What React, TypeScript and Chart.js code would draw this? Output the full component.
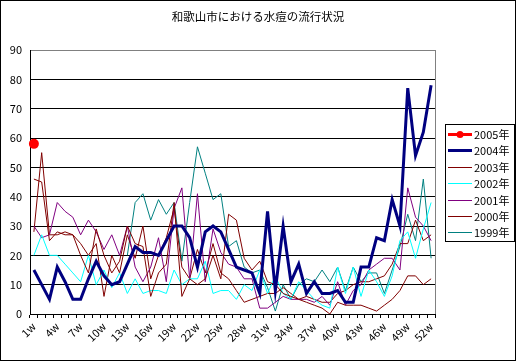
import React, { useEffect, useRef } from "react";
import { Chart, registerables } from "chart.js";

Chart.register(...registerables);

const TITLE = "和歌山市における水痘の流行状況";

const weeks = [
  "1w","2w","3w","4w","5w","6w","7w","8w","9w","10w","11w","12w","13w",
  "14w","15w","16w","17w","18w","19w","20w","21w","22w","23w","24w","25w","26w",
  "27w","28w","29w","30w","31w","32w","33w","34w","35w","36w","37w","38w","39w",
  "40w","41w","42w","43w","44w","45w","46w","47w","48w","49w","50w","51w","52w",
];

const y2005 = [58];
const y2004 = [15,10,5,16,11,5,5,12,18,13,10,11,17,23,21,21,20,25,30,30,26,16,28,30,28,22,16,15,14,7,35,8,30,11,17,7,11,7,7,8,4,4,16,16,26,25,39,30,77,54,62,78];
const y2003 = [46,45,25,28,27,27,20,14,29,20,14,18,30,24,23,6,14,17,38,6,12,10,12,20,12,34,32,19,15,18,11,10,7,6,5,4,3,2,0,4,3,3,3,2,1,3,5,8,13,13,10,12];
const y2002 = [20,27,20,20,17,14,11,20,10,15,9,14,7,12,7,8,8,7,15,10,12,12,18,7,8,8,5,10,8,15,7,13,7,5,11,8,5,3,2,16,7,16,6,15,11,6,13,25,28,19,29,38];
const y2001 = [30,26,27,38,35,33,27,32,28,22,27,20,30,16,11,16,26,11,36,43,12,41,11,29,21,17,16,12,12,2,2,4,6,5,5,5,4,6,3,11,3,8,10,15,17,19,19,15,43,33,30,25];
const y2000 = [28,55,27,27,28,27,24,20,24,6,20,14,27,19,30,12,20,26,36,16,12,22,14,24,14,12,8,4,5,6,7,7,9,7,5,6,5,4,4,7,8,10,11,11,12,13,17,24,24,32,25,27];
const y1999 = [null,null,null,null,null,null,null,null,null,null,null,null,20,38,41,32,39,34,38,18,38,57,48,39,41,23,25,16,14,15,9,1,10,5,10,12,11,15,11,16,8,16,11,14,14,7,15,23,34,25,46,19];

const yTicks = [0, 10, 20, 30, 40, 50, 60, 70, 80, 90];

const FONT = '"Noto Sans CJK JP", "Liberation Sans", sans-serif';

const framePlugin = {
  id: "frame",
  afterDraw(chart: any) {
    const ctx = chart.ctx as CanvasRenderingContext2D;
    const { right, top, bottom } = chart.chartArea;
    ctx.save();
    ctx.lineWidth = 1;
    ctx.strokeStyle = "#808080";
    const rx = Math.round(right) + 0.5;
    ctx.beginPath();
    ctx.moveTo(rx, top);
    ctx.lineTo(rx, bottom);
    ctx.stroke();

    ctx.strokeStyle = "#000";
    ctx.strokeRect(0.5, 0.5, chart.width - 1, chart.height - 1);

    ctx.fillStyle = "#000";
    ctx.font = `11.5px ${FONT}`;
    ctx.textAlign = "center";
    ctx.textBaseline = "middle";
    ctx.fillText(TITLE, 258, 17);

    // legend
    const bx = 445, by = 124, bw = 69, bh = 117;
    ctx.fillStyle = "#fff";
    ctx.fillRect(bx, by, bw, bh);
    ctx.strokeStyle = "#000";
    ctx.strokeRect(bx + 0.5, by + 0.5, bw, bh);
    const ds = chart.data.datasets;
    ds.forEach((d: any, i: number) => {
      const yy = Math.round(by + 10 + i * 16.4) + 0.5;
      ctx.strokeStyle = d.borderColor;
      ctx.lineWidth = d.borderWidth;
      ctx.beginPath();
      ctx.moveTo(bx + 3, yy);
      ctx.lineTo(bx + 27, yy);
      ctx.stroke();
      if (d.pointRadius > 0) {
        ctx.fillStyle = d.pointBackgroundColor;
        ctx.beginPath();
        ctx.arc(bx + 15, yy, d.pointRadius, 0, Math.PI * 2);
        ctx.fill();
      }
      ctx.fillStyle = "#000";
      ctx.font = `11px ${FONT}`;
      ctx.textAlign = "left";
      ctx.textBaseline = "middle";
      ctx.fillText(d.label, bx + 29, yy);
    });
    ctx.restore();
  },
};

export default function App() {
  const ref = useRef<HTMLCanvasElement | null>(null);
  useEffect(() => {
    if (!ref.current) return;
    const mk = (label: string, data: any[], color: string, width: number, radius = 0) => ({
      label,
      data,
      borderColor: color,
      backgroundColor: color,
      pointBackgroundColor: color,
      pointBorderColor: color,
      borderWidth: width,
      pointRadius: radius,
      pointHoverRadius: radius,
      tension: 0,
      spanGaps: false,
      fill: false,
    });
    const chart = new Chart(ref.current, {
      type: "line",
      data: {
        labels: weeks,
        datasets: [
          mk("2005年", y2005, "#ff0000", 3, 3.5),
          mk("2004年", y2004, "#000080", 3),
          mk("2003年", y2003, "#800000", 1),
          mk("2002年", y2002, "#00ffff", 1),
          mk("2001年", y2001, "#800080", 1),
          mk("2000年", y2000, "#800000", 1),
          mk("1999年", y1999, "#008080", 1),
        ] as any,
      },
      options: {
        responsive: false,
        animation: false,
        events: [],
        layout: { padding: { left: 0, right: 81, top: 50, bottom: 0 } },
        plugins: {
          legend: { display: false },
          title: { display: false },
          tooltip: { enabled: false },
        },
        scales: {
          x: {
            type: "category",
            offset: true,
            afterFit(scale: any) {
              scale.height = 47;
            },
            grid: {
              offset: true,
              drawOnChartArea: false,
              drawTicks: true,
              tickLength: 4,
              color: "#000",
            },
            border: { display: true, color: "#000" },
            ticks: {
              autoSkip: false,
              maxRotation: 45,
              minRotation: 45,
              padding: 2,
              color: "#000",
              font: { family: FONT, size: 11 },
              callback: (_v: any, i: number) => (i % 3 === 0 ? weeks[i] : ""),
            },
          },
          y: {
            min: 0,
            max: 90,
            afterFit(scale: any) {
              scale.width = 30;
            },
            afterBuildTicks(scale: any) {
              scale.ticks = yTicks.map((v) => ({ value: v }));
            },
            grid: {
              color: (c: any) => (c.tick && c.tick.value === 90 ? "#808080" : "#000"),
              drawTicks: false,
            },
            border: { display: true, color: "#000" },
            ticks: {
              padding: 8,
              color: "#000",
              font: { family: FONT, size: 11 },
            },
          },
        },
      },
      plugins: [framePlugin],
    });
    return () => chart.destroy();
  }, []);
  return (
    <div style={{ position: "absolute", left: 0, top: 0, width: 516, height: 361, background: "#fff" }}>
      <canvas ref={ref} width={516} height={361} style={{ display: "block" }} />
    </div>
  );
}
